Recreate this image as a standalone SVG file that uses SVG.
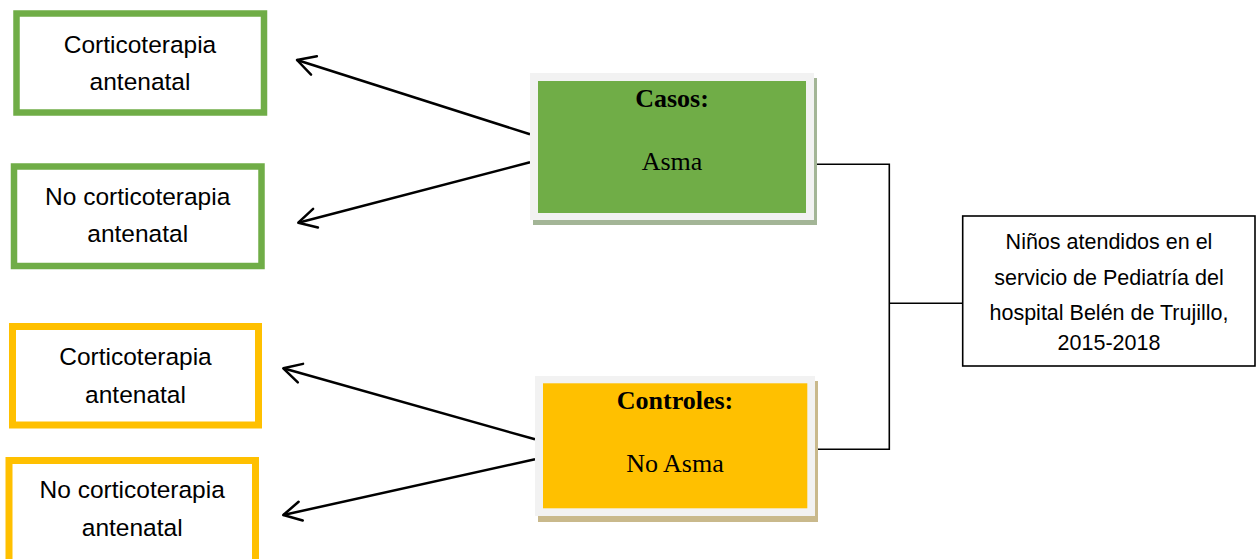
<svg xmlns="http://www.w3.org/2000/svg" width="1256" height="559" viewBox="0 0 1256 559">
<style>
.lbl{font-family:"Liberation Sans",Arial,sans-serif;font-size:24.5px;fill:#000;text-anchor:middle}
.info{font-family:"Liberation Sans",Arial,sans-serif;font-size:21.5px;fill:#000;text-anchor:middle}
.ser{font-family:"Liberation Serif","Times New Roman",serif;font-size:26px;fill:#000;text-anchor:middle}
.b{font-weight:bold}
.gbox{fill:#fff;stroke:#70ad47;stroke-width:6.5}
.ybox{fill:#fff;stroke:#ffc000;stroke-width:7}
.arrow{fill:none;stroke:#000;stroke-width:2.5;marker-end:url(#open)}
.conn{fill:none;stroke:#000;stroke-width:1.6}
</style>
<defs>
<marker id="open" markerUnits="userSpaceOnUse" markerWidth="40" markerHeight="40" viewBox="-20 -20 40 40" refX="0" refY="0" orient="auto">
<path d="M -17.8 -9.6 L 0 0 L -17.8 9.6" fill="none" stroke="#000" stroke-width="2.5" stroke-linecap="round" stroke-linejoin="round"/>
</marker>
</defs>
<rect width="1256" height="559" fill="#fff"/>
<g id="connectors">
<line class="arrow" x1="530" y1="134.3" x2="297" y2="60"/>
<line class="arrow" x1="530" y1="162.3" x2="298.3" y2="222.7"/>
<line class="arrow" x1="535" y1="439.3" x2="283.3" y2="368.3"/>
<line class="arrow" x1="535" y1="459.3" x2="283.3" y2="515"/>
<polyline class="conn" points="817,164.3 889.3,164.3 889.3,449.3 818,449.3"/>
<line class="conn" x1="889.3" y1="303.3" x2="962.7" y2="303.3"/>
</g>
<g id="g-cort">
<rect class="gbox" x="16.5" y="13.5" width="247.5" height="99"/>
<text class="lbl" x="140" y="53.3">Corticoterapia</text>
<text class="lbl" x="140" y="90">antenatal</text>
</g>
<g id="g-nocort">
<rect class="gbox" x="14" y="166.5" width="247.5" height="99.5"/>
<text class="lbl" x="137.7" y="205">No corticoterapia</text>
<text class="lbl" x="137.7" y="242">antenatal</text>
</g>
<g id="y-cort">
<rect class="ybox" x="12.5" y="326.5" width="246" height="98.5"/>
<text class="lbl" x="135.5" y="365">Corticoterapia</text>
<text class="lbl" x="135.5" y="402.7">antenatal</text>
</g>
<g id="y-nocort">
<rect class="ybox" x="9" y="460.5" width="246.5" height="110"/>
<text class="lbl" x="132.2" y="498.3">No corticoterapia</text>
<text class="lbl" x="132.2" y="536">antenatal</text>
</g>
<g id="casos">
<rect x="533" y="78" width="284" height="147" fill="#a3b596"/>
<rect x="530" y="73" width="284" height="147" fill="#f2f2f2"/>
<rect x="538" y="81" width="268" height="132" fill="#70ad47"/>
<text class="ser b" x="672" y="106.7">Casos:</text>
<text class="ser" x="672" y="170">Asma</text>
</g>
<g id="controles">
<rect x="538" y="381" width="280" height="141" fill="#c9b98c"/>
<rect x="535" y="376" width="280" height="140" fill="#f2f2f2"/>
<rect x="543" y="383.3" width="264.3" height="125" fill="#ffc000"/>
<text class="ser b" x="675" y="409">Controles:</text>
<text class="ser" x="675" y="471.7">No Asma</text>
</g>
<g id="poblacion">
<rect x="962.7" y="216" width="292.3" height="150" fill="#fff" stroke="#000" stroke-width="1.6"/>
<text class="info" x="1109" y="249.3">Niños atendidos en el</text>
<text class="info" x="1109" y="285">servicio de Pediatría del</text>
<text class="info" x="1109" y="320">hospital Belén de Trujillo,</text>
<text class="info" x="1109" y="350">2015-2018</text>
</g>
</svg>
